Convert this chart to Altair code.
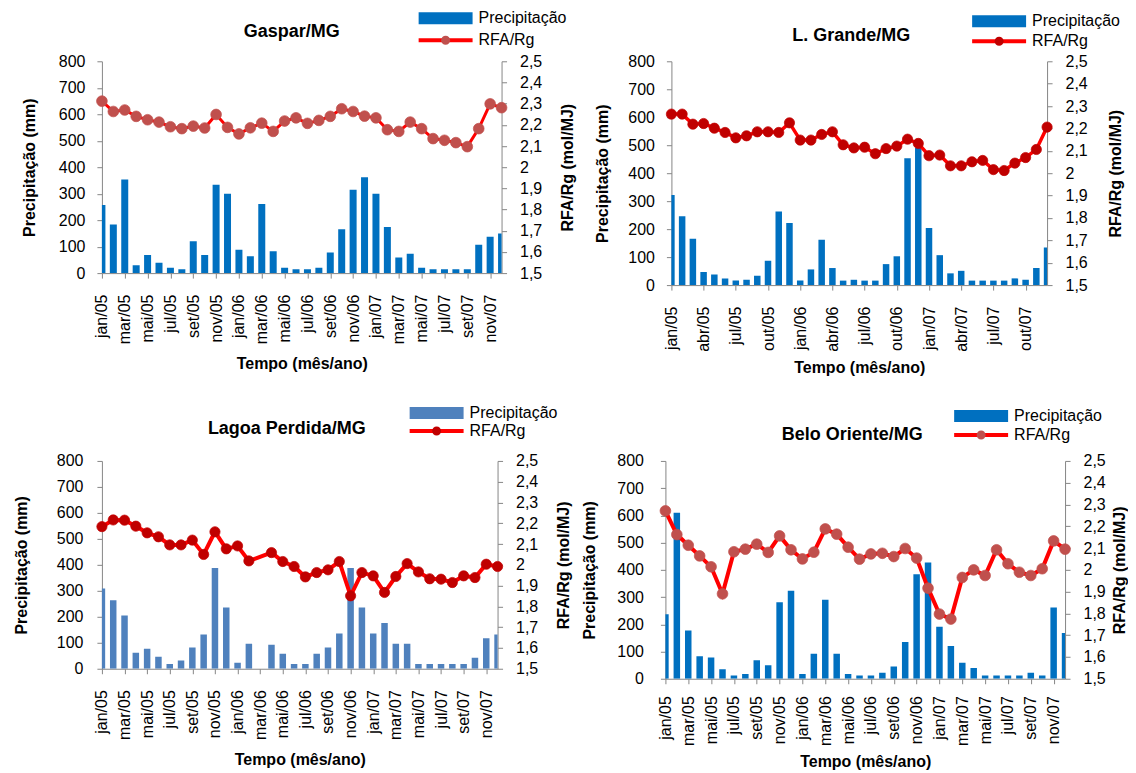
import altair as alt
import pandas as pd

meses = ["jan/05", "fev/05", "mar/05", "abr/05", "mai/05", "jun/05",
         "jul/05", "ago/05", "set/05", "out/05", "nov/05", "dez/05",
         "jan/06", "fev/06", "mar/06", "abr/06", "mai/06", "jun/06",
         "jul/06", "ago/06", "set/06", "out/06", "nov/06", "dez/06",
         "jan/07", "fev/07", "mar/07", "abr/07", "mai/07", "jun/07",
         "jul/07", "ago/07", "set/07", "out/07", "nov/07", "dez/07"]
ordem = list(range(len(meses)))

gaspar_prec = [257, 184, 354, 30, 68, 39, 20, 15, 120, 68, 334, 300,
               88, 64, 261, 83, 20, 15, 15, 20, 78, 166, 315, 362,
               300, 174, 59, 73, 20, 15, 15, 15, 15, 107, 137, 150]
gaspar_rfa = [2.312, 2.263, 2.270, 2.240, 2.224, 2.213, 2.191, 2.182, 2.194, 2.185, 2.249, 2.188,
              2.157, 2.186, 2.208, 2.169, 2.218, 2.233, 2.207, 2.221, 2.240, 2.276, 2.263, 2.241,
              2.233, 2.177, 2.169, 2.213, 2.182, 2.135, 2.127, 2.116, 2.097, 2.182, 2.299, 2.281]

lgrande_prec = [322, 246, 166, 47, 38, 24, 16, 19, 33, 87, 263, 222,
                16, 56, 162, 61, 16, 19, 16, 16, 75, 103, 453, 490,
                204, 107, 42, 51, 16, 16, 16, 16, 24, 19, 61, 134]
lgrande_rfa = [2.264, 2.264, 2.219, 2.222, 2.201, 2.182, 2.158, 2.167, 2.185, 2.185, 2.182, 2.225,
               2.148, 2.148, 2.173, 2.185, 2.127, 2.113, 2.116, 2.087, 2.110, 2.121, 2.152, 2.133,
               2.078, 2.081, 2.033, 2.033, 2.051, 2.057, 2.016, 2.012, 2.045, 2.070, 2.106, 2.206]

lagoa_prec = [309, 264, 205, 62, 77, 46, 18, 32, 82, 132, 388, 236,
              23, 96, None, 92, 58, 18, 18, 58, 82, 136, 388, 236,
              136, 176, 96, 96, 18, 18, 18, 18, 18, 42, 117, 132]
lagoa_rfa = [2.184, 2.216, 2.215, 2.186, 2.154, 2.135, 2.096, 2.096, 2.119, 2.050, 2.159, 2.077,
             2.091, 2.019, None, 2.059, 2.016, 1.992, 1.942, 1.963, 1.976, 2.016, 1.851, 1.963,
             1.947, 1.867, 1.944, 2.006, 1.966, 1.933, 1.931, 1.915, 1.947, 1.939, 2.003, 1.992]

belo_prec = [237, 610, 177, 83, 78, 35, 12, 17, 68, 50, 281, 323,
             17, 92, 290, 92, 17, 12, 12, 22, 45, 135, 384, 427,
             191, 120, 59, 39, 12, 12, 12, 12, 22, 12, 262, 168]
belo_rfa = [2.271, 2.162, 2.113, 2.064, 2.014, 1.890, 2.083, 2.095, 2.118, 2.080, 2.156, 2.092,
            2.050, 2.081, 2.188, 2.164, 2.104, 2.049, 2.073, 2.076, 2.061, 2.098, 2.054, 1.916,
            1.797, 1.774, 1.965, 2.000, 1.974, 2.092, 2.028, 1.989, 1.974, 2.005, 2.133, 2.095]

ticks_prec = [0, 100, 200, 300, 400, 500, 600, 700, 800]
ticks_rfa = [1.5, 1.6, 1.7, 1.8, 1.9, 2.0, 2.1, 2.2, 2.3, 2.4, 2.5]

FONT = "Liberation Sans"
CINZA = "#868686"

SIM_RET = "M-8,-1H1V1H-8Z"
SIM_LIN = "M-8,0H1"
SIM_CIR = "M-2.75,0A0.75,0.75,0,1,1,-4.25,0A0.75,0.75,0,1,1,-2.75,0Z"


def legenda(x, y, simbolo, **kw):
    return alt.Legend(orient="none", legendX=x, legendY=y, title=None, padding=0,
                      symbolType=simbolo, symbolSize=144, labelFont=FONT,
                      labelFontSize=16, labelColor="black", labelOffset=4, **kw)


def painel(titulo, prec, rfa, cor_barra, cor_marcador, largura, altura, passo,
           larg_barra, larg_linha, tam_ponto, leg_x, leg_y1, leg_y2, tit_dx, tit_dy,
           esq_lp, esq_tp, dir_tp, x_lp, x_tp):
    df = pd.DataFrame({"mes": meses, "ordem": ordem, "prec": prec, "rfa": rfa})
    df["s_barra"] = "Precipitação"
    df["s_linha"] = "RFA/Rg"
    df["s_ponto"] = "marcador"
    xenc = alt.X("mes:N", sort=meses, scale=alt.Scale(type="point", padding=0),
                 axis=alt.Axis(values=meses[::passo], labelAngle=-90, title="Tempo (mês/ano)",
                               labelPadding=x_lp, tickSize=5, titlePadding=x_tp))
    yl = alt.Y("prec:Q", scale=alt.Scale(domain=[0, 800], nice=False),
               axis=alt.Axis(values=ticks_prec, orient="left", title="Precipitação (mm)",
                             tickSize=5, labelPadding=esq_lp, titlePadding=esq_tp))
    yr = alt.Y("rfa:Q", scale=alt.Scale(domain=[1.5, 2.5], nice=False, zero=False),
               axis=alt.Axis(values=ticks_rfa, orient="right", title="RFA/Rg (mol/MJ)",
                             labelExpr="replace(format(datum.value, '.1~f'), '.', ',')",
                             tickSize=5, labelPadding=13, titlePadding=dir_tp,
                             titleAngle=270, titleBaseline="top"))
    barras = alt.Chart(df).mark_bar(size=larg_barra, clip=True).encode(
        x=xenc, y=yl,
        fill=alt.Fill("s_barra:N",
                      scale=alt.Scale(domain=["Precipitação"], range=[cor_barra]),
                      legend=legenda(leg_x, leg_y1, SIM_RET, symbolStrokeWidth=0)))
    linha = alt.Chart(df).transform_filter("isValid(datum.rfa)").mark_line(
        strokeWidth=larg_linha).encode(
        x=xenc, y=yr, order=alt.Order("ordem:Q"),
        stroke=alt.Stroke("s_linha:N",
                          scale=alt.Scale(domain=["RFA/Rg"], range=["#FF0000"]),
                          legend=legenda(leg_x, leg_y2, SIM_LIN, symbolStrokeWidth=4)))
    pontos = alt.Chart(df).transform_filter("isValid(datum.rfa)").mark_point(
        filled=True, size=tam_ponto, color=cor_marcador, stroke=cor_marcador,
        strokeWidth=0.8, strokeOpacity=0.9).encode(
        x=xenc, y=yr,
        opacity=alt.Opacity("s_ponto:N",
                            scale=alt.Scale(domain=["marcador"], range=[1]),
                            legend=legenda(leg_x, leg_y2, SIM_CIR, labelExpr="''",
                                           symbolFillColor=cor_marcador,
                                           symbolStrokeWidth=0)))
    return alt.layer(barras, alt.layer(linha, pontos)).resolve_scale(y="independent").properties(
        width=largura, height=altura,
        title=alt.TitleParams(text=titulo, font=FONT, fontSize=18, fontWeight="bold",
                              anchor="middle", frame="group", dx=tit_dx, dy=tit_dy))


gaspar = painel("Gaspar/MG", gaspar_prec, gaspar_rfa, "#0070C0", "#C0504D",
                400, 212, 2, 7, 3, 115, 357, -51, -29, -10, 35, 12, 21, 18, 16, 12)
lgrande = painel("L. Grande/MG", lgrande_prec, lgrande_rfa, "#0070C0", "#C00000",
                 376, 224, 3, 6.5, 3.5, 105, 341, -48, -28, -8, 36, 12, 17, 20, 16, 8)
lagoa = painel("Lagoa Perdida/MG", lagoa_prec, lagoa_rfa, "#4F81BD", "#C00000",
               396, 208, 2, 6.5, 4, 105, 348, -56, -38, -13, 37, 14, 27, 18, 16, 12)
belo = painel("Belo Oriente/MG", belo_prec, belo_rfa, "#0070C0", "#C0504D",
              400, 218, 2, 6.5, 4, 115, 329, -53, -34, -13, 40, 17, 19, 6, 12, 8)

INDEP = dict(fill="independent", stroke="independent", opacity="independent")

linha1 = alt.hconcat(gaspar, lgrande, spacing=18).resolve_scale(**INDEP).resolve_legend(**INDEP)
linha2 = alt.hconcat(lagoa, belo, spacing=9).resolve_scale(**INDEP).resolve_legend(**INDEP)

chart = alt.vconcat(linha1, linha2, spacing=29).resolve_scale(**INDEP).resolve_legend(**INDEP).properties(
    background="white",
    padding={"left": 5, "top": 2, "right": 0, "bottom": 0},
).configure_view(strokeWidth=0).configure_axis(
    labelFont=FONT, titleFont=FONT, labelFontSize=16, titleFontSize=16,
    titleFontWeight="bold", labelColor="black", titleColor="black",
    domainColor=CINZA, tickColor=CINZA, grid=False, labelOverlap=False,
    labelFontWeight="normal",
)

chart.save("out.html", embed_options={"renderer": "svg", "actions": False})
